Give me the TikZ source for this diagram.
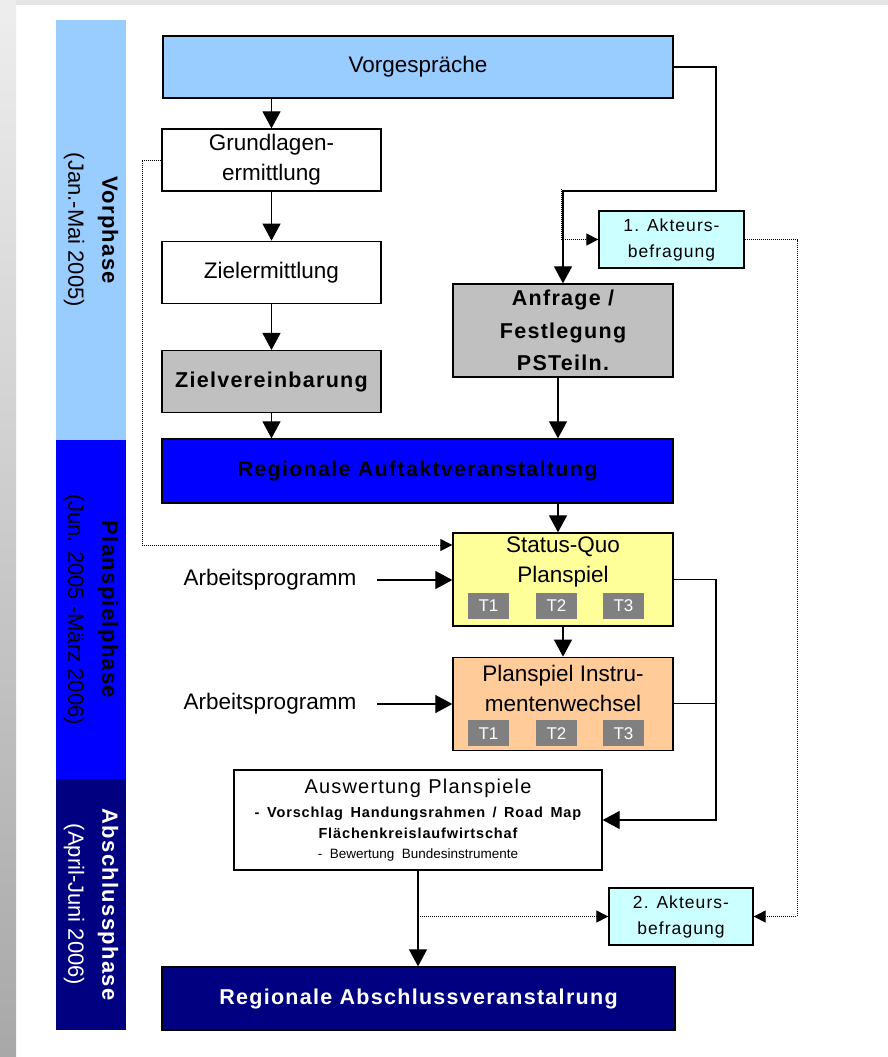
\documentclass[tikz,border=0pt]{standalone}
\usepackage{fontspec}
\setmainfont{Liberation Sans}
\newfontfamily\spaced[LetterSpace=6]{Liberation Sans}
\usetikzlibrary{arrows.meta,positioning,calc}

\definecolor{vorblue}{HTML}{99CCFF}
\definecolor{planblue}{HTML}{0000FF}
\definecolor{endnavy}{HTML}{000080}
\definecolor{decgray}{HTML}{C0C0C0}
\definecolor{quoyellow}{HTML}{FFFF99}
\definecolor{swaporange}{HTML}{FFCC99}
\definecolor{surveycyan}{HTML}{CCFFFF}
\definecolor{tgray}{HTML}{808080}
\definecolor{slidegray}{HTML}{A8A8A8}

\newcommand\boxfont{\fontsize{22.5}{30}\selectfont}
\newcommand\boxboldfont{\spaced\bfseries\fontsize{21.5}{32.5}\selectfont}

\tikzset{%
	>={Triangle[width=18pt,length=17pt]},
	% Specifications for style of nodes:
	base/.style = {rectangle, draw=black, line width=1.3pt,
		inner sep=0pt, align=center, font=\boxfont},
	stepbox/.style = {base, fill=white, minimum width=219pt, minimum height=62pt},
	planbox/.style = {base, minimum width=220pt, minimum height=93pt},
	surveybox/.style = {base, fill=surveycyan, minimum width=145pt,
		minimum height=57pt, font=\spaced\fontsize{17.5}{26}\selectfont},
	tbox/.style = {rectangle, fill=tgray, text=white, inner sep=0pt,
		minimum width=41pt, minimum height=26pt, font=\fontsize{17}{20}\selectfont},
	phasebar/.style = {rectangle, rotate=-90, minimum height=70pt,
		inner sep=0pt, align=center, font=\fontsize{22}{34}\selectfont},
	inputlabel/.style = {inner xsep=21pt, font=\boxfont},
	% Specifications for style of lines:
	flowline/.style = {->, line width=1.2pt},
	surveyline/.style = {-{Triangle[width=12pt,length=12pt]}, line width=1pt,
		dash pattern=on 1pt off 1pt},
}

\begin{document}
\begin{tikzpicture}[x=1pt, y=-1pt]
%% slide background
\useasboundingbox (0,0) rectangle (888,1057);
\fill[white] (0,0) rectangle (888,1057);
\shade[top color=slidegray!20, bottom color=slidegray] (0,0) rectangle (16,1057);
\fill[slidegray!30] (16,0) rectangle (888,5);

%% phases
\node (vorphase)       [phasebar, fill=vorblue, minimum width=420pt] at (91,230)
	{{\spaced\bfseries Vorphase}\\(Jan.-Mai 2005)};
\node (planphase)      [phasebar, fill=planblue, minimum width=339pt] at (91,609.5)
	{{\spaced\bfseries Planspielphase}\\(Jun. 2005 -März 2006)};
\node (abschlussphase) [phasebar, fill=endnavy, text=white, minimum width=251pt] at (91,904.5)
	{{\spaced\bfseries Abschlussphase}\\(April-Juni 2006)};

%% Specification of nodes (position, etc.)
\node (vorgespraeche)    [base, fill=vorblue, minimum width=510pt, minimum height=62pt] at (418,67) {Vorgespräche};
\node (grundlagen)       [stepbox] at (271.5,160) {Grundlagen-\\ermittlung};
\node (zielermittlung)   [stepbox, below=49pt of grundlagen] {Zielermittlung};
\node (zielvereinbarung) [stepbox, fill=decgray, font=\boxboldfont, below=46pt of zielermittlung] {Zielvereinbarung};
\node (anfrage)          [planbox, fill=decgray, font=\boxboldfont] at (563,330.5) {Anfrage /\\Festlegung\\PSTeiln.};
\node (akteurs1)         [surveybox] at (671.5,239.5) {1. Akteurs-\\befragung};
\node (auftakt)          [base, fill=planblue, font=\boxboldfont, minimum width=511pt, minimum height=64pt] at (417.5,471) {Regionale Auftaktveranstaltung};

\node (statusquo)        [planbox, fill=quoyellow] at (563,579.5) {};
\node (statusquolabel)   [font=\boxfont, align=center, inner sep=0pt] at ($(statusquo.north)+(0,30)$) {Status-Quo\\Planspiel};
\node (instrument)       [planbox, fill=swaporange, below=30pt of statusquo] {};
\node (instrumentlabel)  [font=\boxfont, align=center, inner sep=0pt] at ($(instrument.north)+(0,32)$) {Planspiel Instru-\\mentenwechsel};
\foreach \t/\dx in {1/-74.5, 2/-6.5, 3/60.5} {
	\node (quo\t)  [tbox] at ($(statusquo.center)+(\dx,26.5)$) {T\t};
	\node (swap\t) [tbox] at ($(instrument.center)+(\dx,29.5)$) {T\t};
}

\node (arbeit1) [inputlabel] at (270,580) {Arbeitsprogramm};
\node (arbeit2) [inputlabel] at (270,704) {Arbeitsprogramm};

\node (auswertung) [base, fill=white, minimum width=368pt, minimum height=100pt, text width=360pt] at (418,820)
	{{\spaced\fontsize{20}{24}\selectfont Auswertung Planspiele\par}
	{\spaced\bfseries\fontsize{14.5}{24}\selectfont - Vorschlag Handungsrahmen / Road Map\par}
	{\spaced\bfseries\fontsize{14.5}{21}\selectfont Flächenkreislaufwirtschaf\par}
	{\fontsize{13.5}{20}\selectfont - Bewertung Bundesinstrumente\par}};
\node (akteurs2)  [surveybox, minimum width=144pt] at (681,916.5) {2. Akteurs-\\befragung};
\node (abschluss) [base, fill=endnavy, text=white, font=\boxboldfont, minimum width=513pt, minimum height=63pt] at (418.5,998.5) {Regionale Abschlussveranstalrung};

%% helper points for the bent lines
\coordinate (vgturn)     at (716,191);
\coordinate (akt1branch) at (561,189);
\coordinate (leftrail)   at (142,545);
\coordinate (sumrail)    at (716,820);
\coordinate (siderail)   at (797,916.5);

%% Specification of lines between nodes specified above
\draw[flowline] (vorgespraeche.south -| grundlagen.north) -- (grundlagen.north);
\draw[flowline] (grundlagen) -- (zielermittlung);
\draw[flowline] (zielermittlung) -- (zielvereinbarung);
\draw[flowline] (zielvereinbarung.south) -- (zielvereinbarung.south |- auftakt.north);
\draw[flowline] (vorgespraeche.east) -| (vgturn) -| (anfrage.north);
\draw[flowline] ([xshift=-5pt]anfrage.south) -- ([xshift=-5pt]anfrage.south |- auftakt.north);
\draw[flowline] ([xshift=-5pt]auftakt.south -| anfrage) -- ([xshift=-5pt]statusquo.north);
\draw[flowline] (statusquo) -- (instrument);
\draw[flowline] (arbeit1.east) -- (arbeit1.east -| statusquo.west);
\draw[flowline] (arbeit2.east) -- (arbeit2.east -| instrument.west);
\draw[flowline] (statusquo.east) -| (sumrail) -- (auswertung.east);
\draw[line width=1.2pt] (instrument.east) -- (instrument.east -| sumrail);
\draw[flowline] (auswertung.south) -- (auswertung.south |- abschluss.north);

\draw[surveyline] (akt1branch) |- (akteurs1.west);
\draw[surveyline] (grundlagen.west) -| (leftrail) -- (leftrail -| statusquo.west);
\draw[surveyline] (akteurs1.east) -| (siderail) -- (akteurs2.east);
\draw[surveyline] (auswertung.south |- akteurs2.west) -- (akteurs2.west);
\end{tikzpicture}
\end{document}
